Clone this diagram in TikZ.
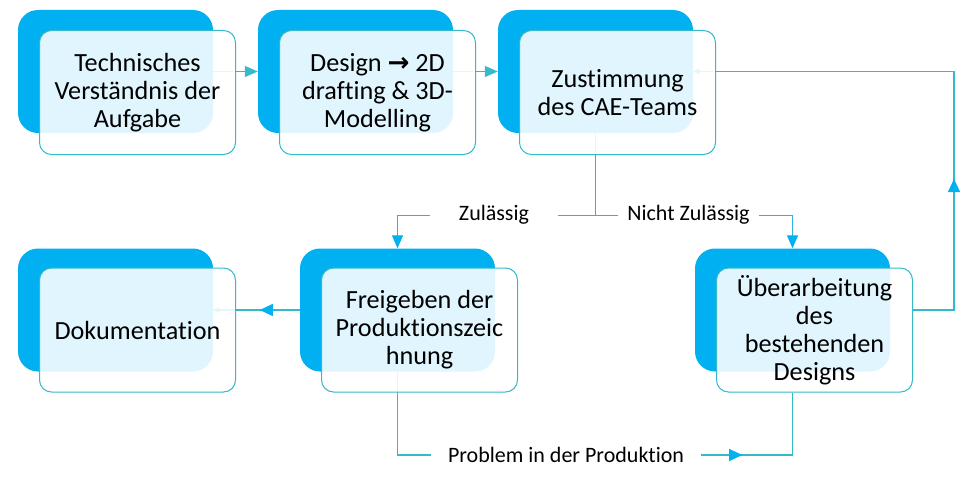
\documentclass[tikz,border=0pt]{standalone}
\usepackage{fontspec}
\setmainfont{Carlito}[Ligatures=NoCommon]
\newfontfamily\arrowfont{DejaVu Sans}
\usetikzlibrary{arrows.meta,decorations.markings,calc}
\pgfdeclarelayer{bg}
\pgfsetlayers{bg,main}
\definecolor{cblue}{RGB}{0,176,240}
\definecolor{cteal}{RGB}{52,186,200}
\definecolor{cline}{RGB}{48,176,226}
\begin{document}
\begin{tikzpicture}[x=1pt,y=-1pt,
  backbox/.style={fill=cblue,rounded corners=20pt,minimum width=195pt,minimum height=123pt,inner sep=0pt},
  frontbox/.style={draw=cteal,line width=1pt,fill=white,fill opacity=0.88,text opacity=1,rounded corners=12pt,minimum width=196pt,minimum height=124pt,inner sep=0pt,align=center,font=\fontsize{26.2}{28}\selectfont},
  conn/.style={draw=cteal,line width=1.2pt},
  connb/.style={draw=cline,line width=1.2pt},
  lbl/.style={fill=white,font=\fontsize{22}{26}\selectfont,inner ysep=2pt},
  midtip/.style={postaction={decorate,decoration={markings,mark=at position #1 with {\arrow{Triangle[length=13pt,width=12pt,color=cblue]}}}}},
  bigtip/.style={-{Triangle[length=13pt,width=11pt]}},
  bluetip/.style={-{Triangle[length=13pt,width=11pt,color=cblue]}},
  smalltip/.style={-{Triangle[length=6pt,width=6pt]}}
]
\useasboundingbox (0,0) rectangle (980,487);

% back boxes
\node[backbox] (b1) at (115.5,71.5) {};
\node[backbox] (b2) at (355.5,71.5) {};
\node[backbox] (b3) at (595.5,71.5) {};
\node[backbox] (b4) at (115.5,310) {};
\node[backbox] (b5) at (397.5,310) {};
\node[backbox] (b6) at (792.5,310) {};

% front boxes
\node[frontbox] (f1) at (137.5,92.5) {Technisches\\Verständnis der\\Aufgabe};
\node[frontbox] (f2) at (377.5,92.5) {Design {\arrowfont\bfseries →} 2D\\drafting \& 3D-\\Modelling};
\node[frontbox] (f3) at (617.5,92.5) {Zustimmung\\des CAE-Teams};
\node[frontbox] (f4) at (137.5,330) {Dokumentation};
\node[frontbox] (f5) at (419.5,330) {Freigeben der\\Produktionszeic\\hnung};
\node[frontbox] (f6) at (814.5,330) {Überarbeitung\\des\\bestehenden\\Designs};

% helper coordinates
\coordinate (sp) at ($(b3.south)+(0,82)$);
\coordinate (lx) at (954,0);
\coordinate (by) at (0,455);

\begin{pgfonlayer}{bg}
\draw[conn,bigtip] (b1.east) -- (b2.west);
\draw[conn,bigtip] (b2.east) -- (b3.west);
\draw[connb] (b3.south) -- (sp);
\draw[connb,bluetip] (sp) -| (b5.north);
\draw[connb,bluetip] (sp) -| (b6.north);
\draw[conn,smalltip,midtip=40pt] (b5.west) -- (b4.east);
\draw[conn,smalltip,midtip=172pt] (f6.east |- b6.center) -- (lx |- b6.center) -- (lx |- b3.east) -- (b3.east);
\draw[conn,midtip=428pt] (b5.south) -- (b5.south |- by) -- (b6.south |- by) -- (b6.south |- f6.south);
\end{pgfonlayer}

% labels
\node[lbl,inner xsep=29pt] (lz) at (494,215) {Zulässig};
\node[lbl,inner xsep=9pt] (lnz) at (688.5,215) {Nicht Zulässig};
\node[lbl,inner xsep=17pt] (lp) at (566,455) {Problem in der Produktion};
\end{tikzpicture}
\end{document}
